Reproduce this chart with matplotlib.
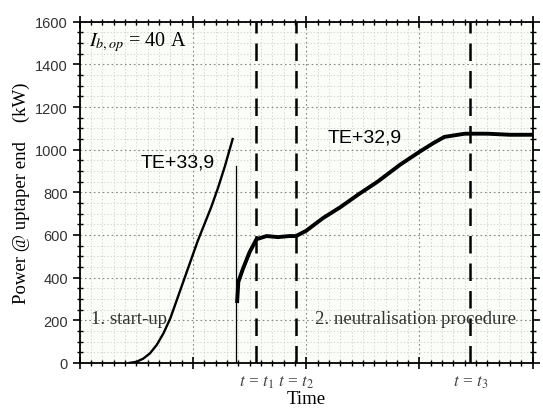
import numpy as np
import matplotlib.pyplot as plt
from matplotlib.ticker import MultipleLocator, NullFormatter

# start-up ramp (time in arbitrary units, power in kW)
t_start = [4.4, 5.0, 5.6, 6.2, 6.8, 7.4, 8.0, 8.6, 9.2, 9.8, 10.4, 11.0,
           11.6, 12.2, 12.8, 13.5]
p_start = [0, 5, 20, 45, 85, 140, 210, 300, 390, 480, 570, 650,
           730, 820, 920, 1050]

# trip: thin vertical drop
t_drop = [13.8, 13.8]
p_drop = [925, 0]

# neutralisation procedure
t_neut = [13.9, 14.0, 14.4, 15.0, 15.6, 16.5, 17.5, 18.5, 19.1, 20.0, 21.5,
          23.0, 24.6, 26.3, 28.3, 30.0, 31.2, 32.2, 34.0, 36.0, 38.0, 39.9]
p_neut = [290, 380, 440, 520, 580, 595, 590, 595, 595, 620, 680,
          730, 790, 850, 930, 990, 1030, 1060, 1075, 1075, 1070, 1070]

t_marks = [15.6, 19.1, 34.5]
t_labels = ['$t$ = $t_1$', '$t$ = $t_2$', '$t$ = $t_3$']

plt.rcParams['font.family'] = ['Liberation Serif', 'DejaVu Serif']
plt.rcParams['mathtext.fontset'] = 'stix'

fig = plt.figure(figsize=(5.43, 4.14), dpi=100)
ax = fig.add_axes([0.147, 0.121, 0.834, 0.824])
ax.set_facecolor('#fafdf8')

ax.plot(t_start, p_start, color='black', lw=1.7)
ax.plot(t_drop, p_drop, color='black', lw=0.9)
ax.plot(t_neut, p_neut, color='black', lw=2.8)

for t in t_marks:
    ax.axvline(t, color='black', lw=1.8, dashes=(7, 4))

ax.set_xlim(0, 40)
ax.set_ylim(0, 1600)
ax.xaxis.set_major_locator(MultipleLocator(10))
ax.xaxis.set_minor_locator(MultipleLocator(1))
ax.xaxis.set_major_formatter(NullFormatter())
ax.yaxis.set_major_locator(MultipleLocator(200))
ax.yaxis.set_minor_locator(MultipleLocator(50))

ax.grid(which='major', color='#888888', ls=(0, (1.5, 2.5)), lw=0.8)
ax.grid(which='minor', color='#cccccc', ls=(0, (1.5, 2.5)), lw=0.6)
ax.set_axisbelow(True)

for s in ax.spines.values():
    s.set_linewidth(1.3)
ax.tick_params(axis='y', which='major', direction='out', length=5, width=1.2,
               labelsize=10.5, labelcolor='#333333', right=True)
ax.tick_params(axis='y', which='minor', direction='inout', length=4, width=1, right=True)
ax.tick_params(axis='x', which='major', direction='inout', length=8, width=1.2, top=True)
ax.tick_params(axis='x', which='minor', direction='inout', length=5, width=1, top=True)
for lab in ax.get_yticklabels():
    lab.set_family(['Liberation Sans', 'DejaVu Sans'])

ax.set_xlabel('Time', fontsize=13.5, labelpad=12)
ax.set_ylabel('Power @ uptaper end    (kW)', fontsize=13.5, labelpad=4)

for t, lab in zip(t_marks, t_labels):
    ax.text(t, -50, lab, ha='center', va='top', fontsize=12.5, color='#444444')

ax.text(0.8, 1565, '$I_{b,op}$ = 40 A', ha='left', va='top', fontsize=14.5)
ax.text(5.4, 940, 'TE+33,9', ha='left', va='center', fontsize=14,
        family=['Liberation Sans', 'DejaVu Sans'])
ax.text(21.9, 1060, 'TE+32,9', ha='left', va='center', fontsize=14,
        family=['Liberation Sans', 'DejaVu Sans'])
ax.text(1.0, 210, '1. start-up', ha='left', va='center', fontsize=13.5, color='#333333')
ax.text(20.8, 210, '2. neutralisation procedure', ha='left', va='center',
        fontsize=13.5, color='#333333')

fig.savefig('out.png', dpi=100)
